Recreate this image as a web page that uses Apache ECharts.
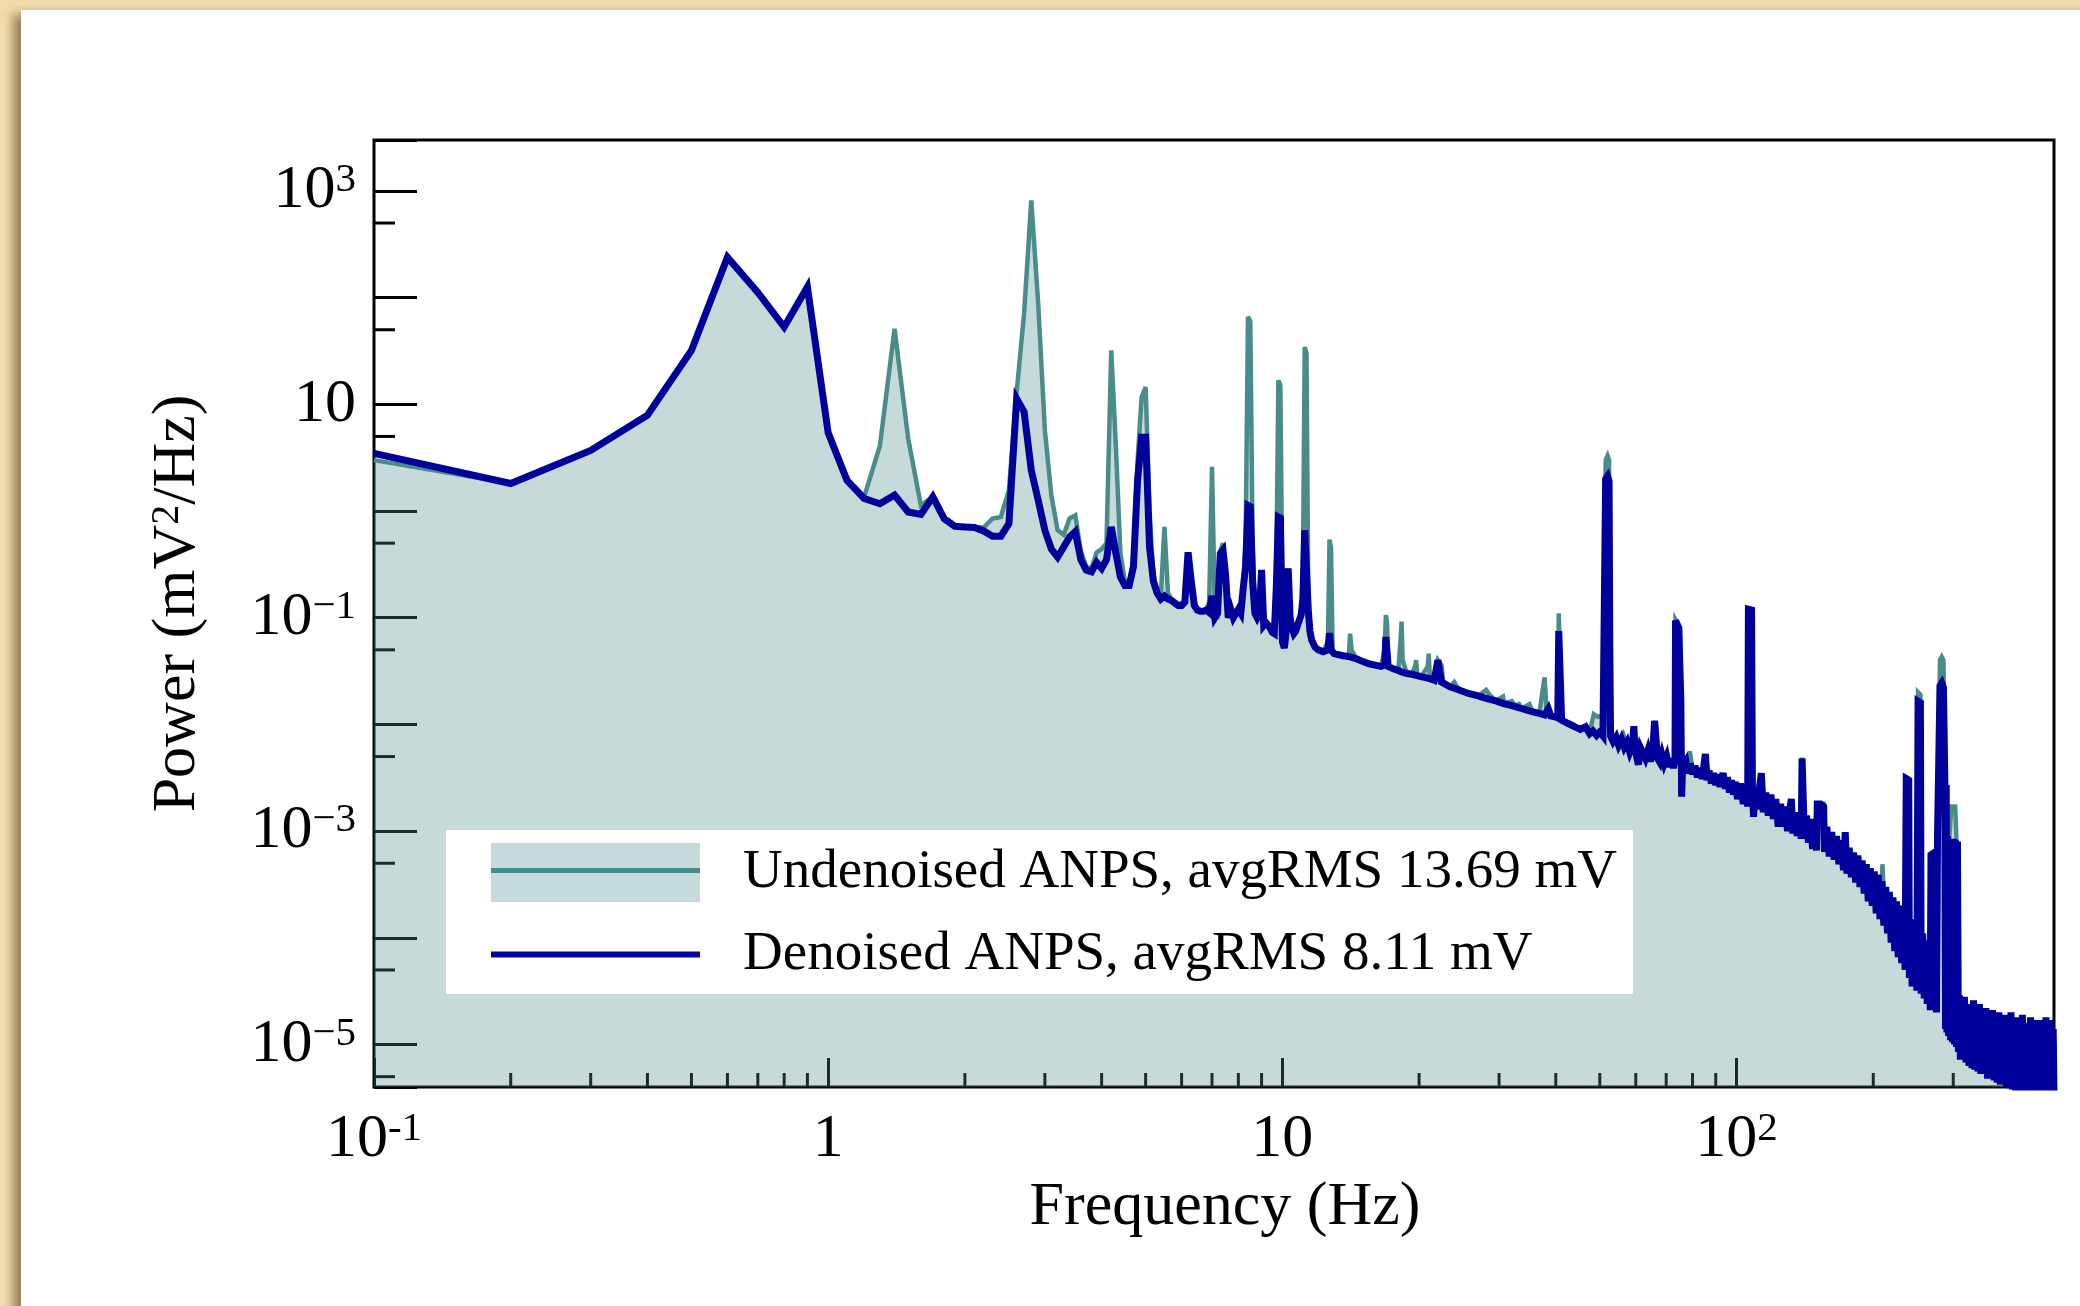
<!DOCTYPE html>
<html><head><meta charset="utf-8">
<script src="https://cdn.jsdelivr.net/npm/echarts@6/dist/echarts.min.js"></script>
<style>
html,body{margin:0;padding:0;width:2080px;height:1306px;overflow:hidden;background:#F3DDB0;}
#panel{position:absolute;left:21px;top:10px;width:2120px;height:1360px;background:#fff;box-shadow:-8px 4px 10px rgba(90,70,30,0.6);}
#chart{position:absolute;left:0;top:0;width:2080px;height:1306px;}
</style></head>
<body><div id="panel"></div><div id="chart"></div>
<script>
// ---------------- DATA (frequency in Hz, power in mV^2/Hz) ----------------
const seriesNames = ['Undenoised ANPS, avgRMS 13.69 mV', 'Denoised ANPS, avgRMS 8.11 mV'];

const undenoisedLow = [[0.1,3.0],[0.2,1.81],[0.3,3.7],[0.4,7.9],[0.5,32],[0.6,239],[0.7,112],[0.8,53],[0.9,126],[1.0,5.4],[1.1,1.94],[1.2,1.35],[1.3,4.1],[1.4,51],[1.5,4.8],[1.6,1.13],[1.7,1.36],[1.8,0.85],[1.9,0.72],[2.0,0.71],[2.1,0.70],[2.2,0.70],[2.3,0.85],[2.4,0.88],[2.5,1.57],[2.6,13],[2.7,71],[2.8,813],[2.9,88],[3.0,5.7],[3.1,1.4],[3.2,0.66],[3.3,0.6],[3.4,0.85],[3.5,0.91],[3.6,0.42],[3.7,0.3],[3.8,0.29],[3.9,0.41],[4.0,0.44],[4.1,0.5],[4.2,32],[4.3,4.0],[4.4,0.4],[4.5,0.22],[4.6,0.21],[4.7,0.35],[4.8,3.0],[4.9,11.7],[5.0,14.5],[5.1,1.0],[5.2,0.25],[5.3,0.18],[5.4,0.16],[5.5,0.71],[5.6,0.17],[5.7,0.15],[5.8,0.14],[5.9,0.135],[6.0,0.135],[6.1,0.145],[6.2,0.41],[6.3,0.22],[6.4,0.13],[6.5,0.12],[6.6,0.117],[6.7,0.117],[6.8,0.12],[6.9,0.14],[7.0,2.6],[7.1,0.12],[7.2,0.11],[7.3,0.42],[7.4,0.50],[7.5,0.27],[7.6,0.10],[7.7,0.12],[7.8,0.10],[7.9,0.11],[8.0,0.12],[8.1,0.11],[8.2,0.2],[8.3,0.5],[8.4,66],[8.5,60],[8.6,0.5],[8.7,0.12],[8.8,0.10],[8.9,0.11],[9.0,0.28],[9.1,0.085],[9.2,0.09],[9.3,0.085],[9.4,0.08],[9.5,0.073],[9.6,0.071],[9.7,0.3],[9.8,16.8],[9.9,15],[10.0,0.15],[10.1,0.052],[10.2,0.075],[10.3,0.29],[10.4,0.1],[10.5,0.08],[10.6,0.071],[10.7,0.075],[10.8,0.085],[10.9,0.095],[11.0,0.106],[11.1,0.3],[11.2,34.4],[11.3,30],[11.4,0.2],[11.5,0.075],[11.6,0.062],[11.8,0.053],[12.0,0.05],[12.3,0.048],[12.6,0.06],[12.7,0.54],[12.8,0.45],[12.9,0.05],[13.0,0.046]];

const undenoisedMid = [[13.6,0.044],[14.0,0.043],[14.1,0.071],[14.2,0.05],[14.6,0.041],[15.0,0.039],[15.5,0.037],[16.0,0.036],[16.5,0.035],[16.8,0.05],[16.9,0.106],[17.0,0.09],[17.1,0.035],[17.6,0.033],[18.0,0.032],[18.2,0.06],[18.3,0.092],[18.4,0.04],[18.8,0.030],[19.3,0.030],[19.6,0.035],[19.7,0.04],[19.8,0.03],[20.2,0.028],[20.9,0.035],[21.0,0.046],[21.1,0.03],[21.6,0.026],[22.0,0.04],[22.2,0.04],[22.4,0.036],[22.6,0.025],[23.4,0.0225],[23.9,0.025],[24.5,0.021],[25.7,0.0195],[27.0,0.0185],[28.1,0.021],[28.5,0.0193],[29.5,0.0166],[30.6,0.0182],[30.8,0.0157],[32.0,0.0165],[32.5,0.015],[33.2,0.0155],[33.6,0.0141],[35.0,0.0155],[35.5,0.0134],[36.8,0.0127],[37.7,0.026],[37.8,0.0276],[38.2,0.0123],[39.5,0.0118],[40.4,0.0115],[40.6,0.11],[40.9,0.114],[41.2,0.011],[42.6,0.0102],[44.1,0.0095],[45.3,0.009],[46.5,0.0092],[47.5,0.0085],[48.5,0.0125],[49.5,0.0118],[50.5,0.012],[51.2,0.0095],[51.5,3.0],[52.0,3.3],[52.4,3.0],[52.6,0.05],[52.8,0.0078],[53.5,0.0072],[55.0,0.0068],[56.3,0.0081],[57.4,0.0064],[59.0,0.006],[59.4,0.0096],[59.8,0.006],[61.5,0.0057],[63.0,0.0052],[64.6,0.005],[66.0,0.0108],[66.6,0.0112],[67.0,0.005],[68.5,0.0048],[70.2,0.0046],[71.8,0.0044],[73.2,0.0043],[73.4,0.096],[74.0,0.1],[74.6,0.085],[75.1,0.08],[75.4,0.017],[75.7,0.004],[77.3,0.0042],[78.9,0.0056],[80.0,0.0039],[82.0,0.0036],[84.0,0.0035],[85.4,0.005],[87.0,0.0033],[89.0,0.0032],[91.0,0.003],[93.4,0.0032],[95.5,0.0028],[97.5,0.0026],[99.5,0.0026]];

const undenoisedHigh = [[101,0.0024],[103,0.0023],[105,0.0022],[105.8,0.0021],[106.2,0.12],[107,0.122],[107.9,0.118],[108.4,0.002],[110,0.002],[113,0.0019],[116,0.0018],[120,0.0016],[124,0.0015],[128,0.0013],[132,0.0012],[136,0.0011],[138.8,0.001],[139.4,0.0049],[140.4,0.005],[141,0.001],[144,0.00095],[148,0.00088],[150,0.00085],[150.6,0.0018],[153,0.0018],[155.5,0.0018],[156.2,0.0008],[160,0.00075],[165,0.00068],[170,0.0006],[173.5,0.0009],[175,0.00055],[180,0.00048],[185,0.00043],[190,0.00037],[195,0.00033],[200,0.00029],[205,0.00025],[208.5,0.00022],[209.5,0.00049],[210.5,0.00049],[211.5,0.0002],[215,0.00018],[220,0.00015],[225,0.000125],[230,0.000105],[235,8.5e-5],[236.4,0.0032],[238,0.0033],[239.4,0.0031],[240.2,8e-5],[245,7e-5],[250,6e-5],[251,0.02],[252.7,0.0204],[254,0.019],[255,5e-5],[260,4.8e-5],[265,4.4e-5],[268,0.0006],[271,0.00062],[274,0.00058],[275.5,4e-5],[277,0.0012],[280.5,0.04],[283,0.043],[285.5,0.04],[287.5,0.003],[289.5,0.0027],[291,0.0009],[294,0.00085],[297,0.0017],[300,0.0017],[303,0.0017],[305,0.0008],[306.5,2.8e-5],[315,1.5e-5],[330,1.3e-5],[345,1.1e-5],[360,1e-5],[380,9e-6],[405,8e-6],[430,7.8e-6],[460,7.6e-6],[500,7.5e-6]];

const denoisedLow = [[0.1,3.47],[0.2,1.81],[0.3,3.7],[0.4,7.9],[0.5,32],[0.6,239],[0.7,112],[0.8,53],[0.9,126],[1.0,5.4],[1.1,1.94],[1.2,1.31],[1.3,1.17],[1.4,1.41],[1.5,0.98],[1.6,0.93],[1.7,1.36],[1.8,0.85],[1.9,0.72],[2.0,0.71],[2.1,0.70],[2.2,0.65],[2.3,0.58],[2.4,0.58],[2.5,0.76],[2.6,11.3],[2.7,8.5],[2.8,2.41],[2.9,1.26],[3.0,0.66],[3.1,0.44],[3.2,0.37],[3.3,0.46],[3.4,0.57],[3.5,0.64],[3.6,0.35],[3.7,0.28],[3.8,0.27],[3.9,0.33],[4.0,0.29],[4.1,0.35],[4.2,0.71],[4.3,0.40],[4.4,0.24],[4.5,0.20],[4.6,0.20],[4.7,0.30],[4.8,1.94],[4.9,4.9],[5.0,4.9],[5.1,0.46],[5.2,0.22],[5.3,0.17],[5.4,0.15],[5.5,0.16],[5.6,0.15],[5.7,0.145],[5.8,0.137],[5.9,0.13],[6.0,0.13],[6.1,0.14],[6.2,0.41],[6.3,0.22],[6.4,0.13],[6.5,0.118],[6.6,0.115],[6.7,0.115],[6.8,0.118],[6.9,0.112],[7.0,0.16],[7.1,0.10],[7.2,0.11],[7.3,0.40],[7.4,0.43],[7.5,0.25],[7.6,0.10],[7.7,0.12],[7.8,0.10],[7.9,0.11],[8.0,0.12],[8.1,0.11],[8.2,0.19],[8.3,0.3],[8.4,1.13],[8.5,1.1],[8.6,0.22],[8.7,0.11],[8.8,0.10],[8.9,0.11],[9.0,0.28],[9.1,0.085],[9.2,0.09],[9.3,0.085],[9.4,0.08],[9.5,0.073],[9.6,0.071],[9.7,0.2],[9.8,0.88],[9.9,0.86],[10.0,0.06],[10.1,0.052],[10.2,0.075],[10.3,0.29],[10.4,0.1],[10.5,0.08],[10.6,0.071],[10.7,0.075],[10.8,0.085],[10.9,0.095],[11.0,0.106],[11.1,0.15],[11.2,0.66],[11.3,0.64],[11.4,0.12],[11.5,0.075],[11.6,0.062],[11.8,0.053],[12.0,0.05],[12.3,0.048],[12.6,0.05],[12.7,0.072],[12.8,0.05],[13.0,0.046]];

const denoisedMid = [[13.6,0.044],[14.1,0.043],[14.6,0.041],[15.0,0.039],[15.5,0.037],[16.0,0.036],[16.5,0.035],[16.8,0.036],[16.9,0.066],[17.0,0.066],[17.1,0.035],[17.6,0.033],[18.0,0.032],[18.3,0.031],[18.8,0.030],[19.3,0.0295],[19.6,0.029],[20.2,0.028],[21.0,0.027],[21.6,0.026],[22.0,0.04],[22.2,0.04],[22.4,0.025],[23.4,0.0225],[24.5,0.021],[25.7,0.0195],[27.0,0.0185],[28.1,0.0175],[29.5,0.0166],[30.7,0.0157],[32.0,0.015],[33.6,0.0141],[35.0,0.0134],[36.0,0.013],[36.8,0.0127],[37.8,0.0123],[38.5,0.014],[39.0,0.012],[39.8,0.0118],[40.4,0.0115],[40.6,0.075],[41.0,0.076],[41.2,0.011],[42.6,0.0102],[44.1,0.0095],[45.3,0.0090],[46.5,0.0095],[47.5,0.0082],[48.3,0.0087],[49.2,0.0079],[50.0,0.0085],[50.8,0.0078],[51.3,0.008],[51.5,2.0],[52.0,2.12],[52.4,1.9],[52.6,0.05],[52.8,0.0078],[53.5,0.0069],[54.3,0.0076],[55.0,0.0064],[55.8,0.0073],[56.6,0.0061],[57.4,0.0068],[58.2,0.0055],[59.0,0.0064],[59.4,0.0096],[59.8,0.0058],[60.8,0.0042],[61.5,0.0060],[62.2,0.0054],[63.0,0.0048],[63.8,0.0057],[64.6,0.0045],[65.4,0.0055],[66.0,0.0108],[66.6,0.0112],[67.0,0.0048],[67.8,0.0044],[68.5,0.0052],[69.3,0.0043],[70.2,0.0050],[71.0,0.0040],[71.8,0.0048],[72.6,0.0039],[73.2,0.0046],[73.4,0.094],[74.0,0.096],[74.6,0.08],[75.1,0.078],[75.4,0.017],[75.7,0.0021],[76.1,0.0042],[77.3,0.0046],[78.2,0.0035],[79.1,0.0043],[80.0,0.0034],[81.0,0.0041],[82.0,0.0032],[83.0,0.0039],[84.0,0.0031],[85.4,0.0053],[86.0,0.0030],[87.0,0.0037],[88.0,0.0028],[89.0,0.0035],[90.0,0.0027],[91.0,0.0034],[92.0,0.0026],[93.4,0.0035],[94.5,0.0025],[95.5,0.0032],[96.5,0.0023],[97.5,0.0030],[98.5,0.0022],[99.5,0.0029]];

const denoisedHigh = [[100.5,0.0020],[102,0.0028],[103.5,0.0018],[105,0.0027],[105.8,0.0017],[106.2,0.12],[107,0.122],[107.9,0.118],[108.4,0.0023],[109,0.00136],[110,0.0025],[111.2,0.0016],[112.3,0.0025],[113.4,0.0035],[114.5,0.0015],[116,0.0023],[117.5,0.0014],[119,0.0022],[120.5,0.0013],[122,0.0020],[123.5,0.0011],[125,0.0018],[126.5,0.0011],[128,0.0017],[129.5,0.0010],[131,0.0016],[132,0.002],[133,0.00095],[134.5,0.0015],[136,0.0009],[137.5,0.0014],[138.8,0.00085],[139.4,0.0048],[140.4,0.0049],[141,0.00095],[142.5,0.0014],[144,0.00078],[145.5,0.0013],[147,0.00068],[148.5,0.0012],[150,0.00066],[150.6,0.0018],[153,0.0018],[155.5,0.0017],[156.2,0.00064],[158,0.0011],[160,0.00058],[162,0.00098],[164,0.00054],[166,0.0009],[168,0.00049],[170,0.00082],[172,0.00043],[173.5,0.00098],[175,0.0004],[177,0.0007],[179,0.00037],[181,0.00063],[183,0.00033],[185,0.00059],[187,0.0003],[189,0.00053],[191,0.00026],[193,0.00049],[195,0.00022],[197,0.00045],[199,0.0002],[201,0.00042],[203,0.00017],[205,0.00039],[207,0.00015],[209,0.00034],[211,0.00013],[213,0.0003],[215,0.00011],[217,0.00027],[219,9e-5],[221,0.00024],[223,7.5e-5],[225,0.00022],[227,6.6e-5],[229,0.0002],[231,5.8e-5],[233,0.00018],[235,5e-5],[236.4,0.0031],[238,0.0032],[239.4,0.003],[240.2,4.2e-5],[242,0.00015],[243.5,3.5e-5],[245,0.00014],[246.5,3.7e-5],[248,0.00012],[249.5,3.2e-5],[251,0.0165],[252.7,0.0168],[254,0.016],[255,3e-5],[257,0.00011],[259,2.7e-5],[261,9.5e-5],[263,2.4e-5],[265,8.8e-5],[267,2.1e-5],[268,0.0006],[271,0.00062],[274,0.00058],[275.5,2e-5],[277,0.0009],[280.5,0.023],[283,0.0244],[285.5,0.022],[287.5,0.003],[288.5,1.4e-5],[289.5,0.0027],[290.5,1.3e-5],[291.5,0.0009],[293,1.2e-5],[294.5,0.00085],[296,1.1e-5],[297.5,0.0008],[299,1.05e-5],[300.5,0.00085],[302,1e-5],[303.5,0.00082],[305,9.5e-6],[306.5,0.0008],[308,8.5e-6],[309.5,2.9e-5],[311,7.2e-6],[313,2.7e-5],[315,7.2e-6],[317.5,2.8e-5],[320,6.8e-6],[322.5,2.4e-5],[325,6.3e-6],[327.5,2.3e-5],[330,6e-6],[332.5,2.6e-5],[335,5.8e-6],[337.5,2.1e-5],[340,5.6e-6],[342.5,2.4e-5],[345,5.3e-6],[348,1.9e-5],[351,5.4e-6],[354,2.2e-5],[357,4.8e-6],[360,1.8e-5],[363,5e-6],[366,2.1e-5],[369,4.6e-6],[372,1.7e-5],[375,4.4e-6],[378,2e-5],[381,4.2e-6],[384,1.6e-5],[387,4.3e-6],[390,1.9e-5],[393,4e-6],[396,1.6e-5],[399,3.9e-6],[402,2e-5],[405,3.8e-6],[408,1.6e-5],[411,3.7e-6],[414,1.8e-5],[417,3.5e-6],[420,1.5e-5],[423,3.7e-6],[426,1.9e-5],[429,3.4e-6],[432,1.6e-5],[435,3.5e-6],[438,1.5e-5],[441,3.3e-6],[444,1.8e-5],[447,3.4e-6],[450,1.5e-5],[453,3.5e-6],[456,1.7e-5],[459,3.3e-6],[462,1.4e-5],[465,3.4e-6],[468,1.7e-5],[471,3.2e-6],[474,1.5e-5],[477,3.5e-6],[480,1.8e-5],[483,3.3e-6],[486,1.5e-5],[489,3.4e-6],[492,1.7e-5],[495,3.2e-6],[498,1.4e-5],[500,3.4e-6]];

// axis ticks / labels
const xLabelExponents = [-1, 0, 1, 2];
const yLabelExponents = [3, 1, -1, -3, -5];
const xMinorTicks = [0.2,0.3,0.4,0.5,0.6,0.7,0.8,0.9, 2,3,4,5,6,7,8,9, 20,30,40,50,60,70,80,90, 200,300,400];
const yMinorTicks = [5e-6, 5e-5, 5e-4, 5e-3, 5e-2, 0.5, 5, 50, 500];

// ---------------- CHART ----------------
const FONT = "'Liberation Serif','Times New Roman',Times,serif";
const TEAL = '#4A8C8A', BLUE = '#00009B', FILL = '#C5DADA';
const X_MIN = 0.1, X_MAX = 500, Y_MIN = 4e-6, Y_MAX = 3000;

function decadeExp(v) {
  const e = Math.log10(v);
  const r = Math.round(e);
  return Math.abs(e - r) < 1e-6 ? r : null;
}
const rich = {
  b:  {fontFamily: FONT, fontSize: 62, lineHeight: 62, color: '#000', verticalAlign: 'bottom'},
  bp: {fontFamily: FONT, fontSize: 62, lineHeight: 62, color: '#000', verticalAlign: 'bottom', padding: [9, 0, 0, 0]},
  s:  {fontFamily: FONT, fontSize: 41, lineHeight: 41, color: '#000', verticalAlign: 'top', padding: [0, 0, 31, 0]}
};

const legendBase = {
  orient: 'vertical', left: 446, top: 830,
  padding: [13, 16, 12, 45],
  itemWidth: 209, itemHeight: 59, itemGap: 25,
  selectedMode: false, symbolKeepAspect: true
};

const chart = echarts.init(document.getElementById('chart'), null, {renderer: 'canvas'});
chart.setOption({
  animation: false,
  backgroundColor: 'transparent',
  grid: {left: 374, right: 26, top: 140, bottom: 219, show: true, borderColor: '#000', borderWidth: 3,
         backgroundColor: 'transparent', containLabel: false, outerBoundsMode: 'none'},
  legend: [
    Object.assign({}, legendBase, {
      backgroundColor: '#fff',
      textStyle: {fontFamily: FONT, fontSize: 55, color: '#000', padding: [0, 0, 0, 38]},
      data: [
        {name: seriesNames[0], icon: 'rect', itemStyle: {color: FILL, borderWidth: 0, opacity: 1}},
        {name: seriesNames[1], icon: 'path://M0,0H209V6H0Z', itemStyle: {color: BLUE, borderWidth: 0, opacity: 1}}
      ]
    }),
    Object.assign({}, legendBase, {
      backgroundColor: 'transparent',
      textStyle: {fontFamily: FONT, fontSize: 55, color: 'rgba(0,0,0,0)', padding: [0, 0, 0, 38]},
      data: [
        {name: seriesNames[0], icon: 'path://M0,0H209V5H0Z', itemStyle: {color: TEAL, borderWidth: 0, opacity: 1}}
      ]
    })
  ],
  xAxis: {
    type: 'log', logBase: 10, min: X_MIN, max: X_MAX, splitNumber: 4,
    axisLine: {show: false},
    splitLine: {show: false},
    axisTick: {show: true, inside: true, length: 29, lineStyle: {color: '#000', width: 3}},
    axisLabel: {
      show: true, margin: 22, showMinLabel: true, showMaxLabel: true, hideOverlap: false,
      formatter: function (v) {
        const e = decadeExp(v);
        if (e === null || xLabelExponents.indexOf(e) < 0) return '';
        if (e === 0) return '{bp|1}';
        if (e === 1) return '{bp|10}';
        return '{bp|10}{s|' + (e < 0 ? '-' + (-e) : e) + '}';
      },
      rich: rich
    },
    name: 'Frequency (Hz)', nameLocation: 'middle', nameGap: 89.5, nameMoveOverlap: false,
    nameTextStyle: {fontFamily: FONT, fontSize: 62, lineHeight: 62, color: '#000', padding: [0, 0, 0, 22]}
  },
  yAxis: {
    type: 'log', logBase: 10, min: Y_MIN, max: Y_MAX, splitNumber: 9,
    axisLine: {show: false},
    splitLine: {show: false},
    axisTick: {show: true, inside: true, length: 43, lineStyle: {color: '#000', width: 3}},
    axisLabel: {
      show: true, margin: 18, showMinLabel: true, showMaxLabel: true, hideOverlap: false,
      formatter: function (v) {
        const e = decadeExp(v);
        if (e === null || yLabelExponents.indexOf(e) < 0) return '';
        if (e === 1) return '{b|10}';
        return '{b|10}{s|' + (e < 0 ? '\u2212' + (-e) : e) + '}';
      },
      rich: rich
    },
    name: '{a|Power (mV}{s|2}{a|/Hz)}', nameLocation: 'middle', nameGap: 165, nameRotate: 90, nameMoveOverlap: false,
    nameTextStyle: {
      padding: [0, 0, 0, 20],
      rich: {
        a: {fontFamily: FONT, fontSize: 62, lineHeight: 62, color: '#000', verticalAlign: 'bottom'},
        s: {fontFamily: FONT, fontSize: 40, lineHeight: 40, color: '#000', verticalAlign: 'top', padding: [0, 0, 31, 0]}
      }
    }
  },
  series: [
    {
      type: 'custom', name: 'xMinor', coordinateSystem: 'cartesian2d', z: 1, silent: true,
      data: xMinorTicks.map(v => [v, Y_MIN]),
      renderItem: function (params, api) {
        const p = api.coord([api.value(0), api.value(1)]);
        return {type: 'line', shape: {x1: p[0], y1: p[1], x2: p[0], y2: p[1] - 14}, style: {stroke: '#000', lineWidth: 3}};
      }
    },
    {
      type: 'custom', name: 'yMinor', coordinateSystem: 'cartesian2d', z: 1, silent: true,
      data: yMinorTicks.map(v => [X_MIN, v]),
      renderItem: function (params, api) {
        const p = api.coord([api.value(0), api.value(1)]);
        return {type: 'line', shape: {x1: p[0], y1: p[1], x2: p[0] + 21, y2: p[1]}, style: {stroke: '#000', lineWidth: 3}};
      }
    },
    {
      type: 'line', name: seriesNames[0], z: 2,
      data: undenoisedLow.concat(undenoisedMid, undenoisedHigh),
      showSymbol: false, symbol: 'none', smooth: false, clip: true,
      color: TEAL,
      itemStyle: {color: TEAL, borderWidth: 0},
      lineStyle: {color: TEAL, width: 4.5, join: 'miter', miterLimit: 4},
      areaStyle: {color: TEAL, opacity: 0.32, origin: 'start'},
      emphasis: {disabled: true}
    },
    {
      type: 'line', name: seriesNames[1], z: 3,
      data: denoisedLow.concat(denoisedMid, denoisedHigh),
      showSymbol: false, symbol: 'none', smooth: false, clip: true,
      color: BLUE,
      itemStyle: {color: BLUE, borderWidth: 0},
      lineStyle: {color: BLUE, width: 7, join: 'miter', miterLimit: 4},
      emphasis: {disabled: true}
    }
  ]
});
</script>
</body></html>
